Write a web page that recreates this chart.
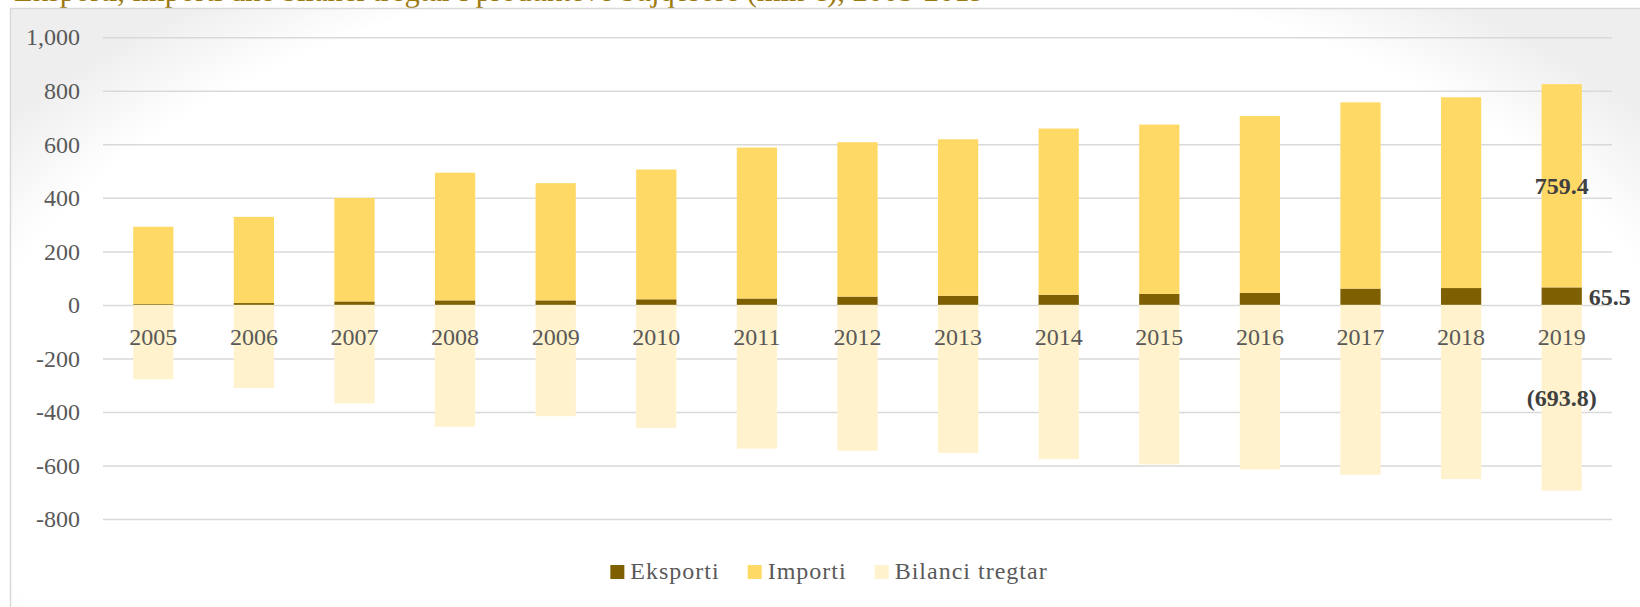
<!DOCTYPE html>
<html>
<head>
<meta charset="utf-8">
<script src="https://cdn.jsdelivr.net/npm/d3@7"></script>
<style>
  body { margin: 0; background: #fff; }
  svg { display: block; font-family: 'Liberation Serif', serif; }
</style>
</head>
<body>
<div id="chart"></div>
<script>
// values (mln)
const years = ['2005', '2006', '2007', '2008', '2009', '2010', '2011', '2012', '2013', '2014', '2015', '2016', '2017', '2018', '2019']
const eksporti = [3, 7, 13, 17, 17, 21, 24, 31, 34, 38, 41, 45, 61, 63, 65.5]
const importi = [289, 322, 387, 477, 438, 485, 564, 577, 585, 621, 633, 661, 696, 713, 759.4]
const bilanci = [-278, -310, -368, -455, -416, -459, -537, -545, -553, -576, -596, -615, -635, -651, -693.8]
const seriesNames = ['Eksporti', 'Importi', 'Bilanci tregtar']
const yTicks = [1000, 800, 600, 400, 200, 0, -200, -400, -600, -800]
const titleText = 'Eksporti, importi dhe bilanci tregtar i produkteve bujqësore (mln €), 2005-2019'

let width = 1640,
  height = 607

let svg = d3
  .select('#chart')
  .append('svg')
  .attr('width', width)
  .attr('height', height)

// background gradient of the chart area (grey only towards the corners)
let grad = svg
  .append('defs')
  .append('radialGradient')
  .attr('id', 'bg')
  .attr('gradientUnits', 'userSpaceOnUse')
  .attr('cx', 829)
  .attr('cy', 430)
  .attr('r', 1000)
  .attr('gradientTransform', 'translate(829,430) scale(1,0.55) translate(-829,-430)')
grad.append('stop').attr('offset', '0%').attr('stop-color', '#ffffff')
grad.append('stop').attr('offset', '86%').attr('stop-color', '#ffffff')
grad.append('stop').attr('offset', '100%').attr('stop-color', '#eeeeee')

// title, mostly cut off at the top like in the source
svg
  .append('text')
  .attr('x', 14)
  .attr('y', 1)
  .attr('fill', '#9c7a12')
  .style('font-size', '30.5px')
  .text(titleText)

svg
  .append('rect')
  .attr('x', 10.5)
  .attr('y', 8.5)
  .attr('width', 1640)
  .attr('height', 700)
  .attr('fill', 'url(#bg)')
  .attr('stroke', '#d9d9d9')
  .attr('stroke-width', 1.5)

let data = years.map(function(yr, i) {
  return {
    year: yr,
    Eksporti: eksporti[i],
    Importi: importi[i],
    'Bilanci tregtar': bilanci[i]
  }
})

let x = d3
  .scaleBand()
  .domain(years)
  .range([103, 1612])
  .paddingInner(0.6)
  .paddingOuter(0.3)

let y = d3
  .scaleLinear()
  .domain([-800, 1000])
  .range([519, 37.3])

let color = d3
  .scaleOrdinal()
  .domain(seriesNames)
  .range(['#7f6000', '#ffd966', '#fff2cc'])

// Y axis + gridlines
let yAxis = svg
  .append('g')
  .attr('transform', 'translate(103,0)')
  .call(
    d3
      .axisLeft(y)
      .tickValues(yTicks)
      .tickSize(-1509)
      .tickPadding(23)
      .tickFormat(function(d) {
        return d3.format(',')(d).replace('−', '-')
      })
  )
yAxis.select('.domain').remove()
yAxis
  .selectAll('line')
  .attr('stroke', '#d9d9d9')
  .attr('stroke-width', 1.5)
yAxis
  .selectAll('text')
  .attr('fill', '#595959')
  .style('font-size', '24px')
  .style('font-family', 'Liberation Serif, serif')

// stacked bars
let stacked = d3
  .stack()
  .keys(seriesNames)
  .offset(d3.stackOffsetDiverging)(data)

svg
  .append('g')
  .selectAll('g')
  .data(stacked)
  .enter()
  .append('g')
  .attr('fill', function(d) {
    return color(d.key)
  })
  .selectAll('rect')
  .data(function(d) {
    return d
  })
  .enter()
  .append('rect')
  .attr('x', function(d) {
    return x(d.data.year)
  })
  .attr('y', function(d) {
    return y(Math.max(d[0], d[1]))
  })
  .attr('width', x.bandwidth())
  .attr('height', function(d) {
    return Math.abs(y(d[0]) - y(d[1]))
  })

// X axis (year labels sit on the zero line)
let xAxis = svg
  .append('g')
  .attr('transform', 'translate(0,' + y(0) + ')')
  .call(
    d3
      .axisBottom(x)
      .tickSize(0)
      .tickPadding(23)
  )
xAxis.select('.domain').remove()
xAxis
  .selectAll('text')
  .attr('fill', '#595959')
  .style('font-size', '24px')
  .style('font-family', 'Liberation Serif, serif')

// data labels for the last year
let last = years.length - 1
let labels = svg.append('g').attr('fill', '#404040')
  .style('font-size', '24px')
  .style('font-weight', 'bold')

stacked.forEach(function(s) {
  let seg = s[last]
  let v = s.key === 'Eksporti' ? eksporti[last] : s.key === 'Importi' ? importi[last] : bilanci[last]
  let txt = v < 0 ? '(' + d3.format('.1f')(-v) + ')' : d3.format('.1f')(v)
  let t = labels
    .append('text')
    .attr('y', y((seg[0] + seg[1]) / 2))
    .attr('dy', '0.35em')
    .text(txt)
  if (s.key === 'Eksporti') {
    t.attr('x', x(years[last]) + x.bandwidth() + 7).attr('text-anchor', 'start')
  } else {
    t.attr('x', x(years[last]) + x.bandwidth() / 2).attr('text-anchor', 'middle')
  }
})

// legend, centred under the chart area
let legend = svg
  .append('g')
  .attr('class', 'legend')
  .attr('transform', 'translate(0,579)')

let items = legend
  .selectAll('g')
  .data(seriesNames)
  .enter()
  .append('g')

items
  .append('rect')
  .attr('y', -14)
  .attr('width', 14)
  .attr('height', 14)
  .attr('fill', color)

items
  .append('text')
  .attr('x', 20)
  .attr('fill', '#595959')
  .style('font-size', '24px')
  .style('letter-spacing', '1px')
  .text(function(d) {
    return d
  })

let offsets = [],
  cur = 0
items.each(function() {
  offsets.push(cur)
  cur += 20 + this.querySelector('text').getComputedTextLength() + 28
})
let total = cur - 28
let start = 829 - total / 2
items.attr('transform', function(d, i) {
  return 'translate(' + (start + offsets[i]) + ',0)'
})
</script>
</body>
</html>
